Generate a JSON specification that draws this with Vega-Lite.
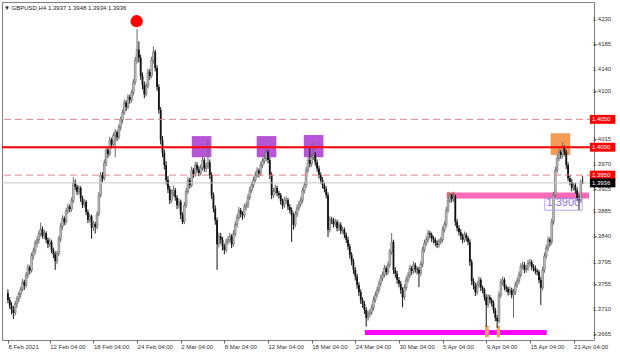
{
  "$schema": "https://vega.github.io/schema/vega-lite/v6.json",
  "width": 592,
  "height": 338,
  "autosize": "none",
  "padding": {"left": 2, "top": 2, "right": 26, "bottom": 12},
  "background": "white",
  "config": {"view": {"stroke": "#808080", "strokeWidth": 1}, "font": "Liberation Sans", "axis": {"labelOverlap": false, "labelBound": false, "labelFlush": false}},
  "title": {"text": "▼ GBPUSD,H4  1.3937 1.3948 1.3934 1.3936", "anchor": "start", "frame": "group", "offset": -9, "fontSize": 6, "fontWeight": "normal", "color": "#222222", "dx": 2, "font": "Liberation Sans"},
  "datasets": {
    "bars": [
      {"i":2,"o":1.3738,"h":1.3745,"l":1.3720,"c":1.3726},
      {"i":3,"o":1.3726,"h":1.3731,"l":1.3710,"c":1.3716},
      {"i":4,"o":1.3716,"h":1.3722,"l":1.3700,"c":1.3708},
      {"i":5,"o":1.3708,"h":1.3715,"l":1.3692,"c":1.3703},
      {"i":6,"o":1.3703,"h":1.3724,"l":1.3698,"c":1.3719},
      {"i":7,"o":1.3719,"h":1.3733,"l":1.3712,"c":1.3728},
      {"i":8,"o":1.3728,"h":1.3741,"l":1.3722,"c":1.3737},
      {"i":9,"o":1.3737,"h":1.3750,"l":1.3730,"c":1.3745},
      {"i":10,"o":1.3745,"h":1.3764,"l":1.3741,"c":1.3758},
      {"i":11,"o":1.3758,"h":1.3762,"l":1.3744,"c":1.3752},
      {"i":12,"o":1.3752,"h":1.3776,"l":1.3748,"c":1.3771},
      {"i":13,"o":1.3771,"h":1.3790,"l":1.3765,"c":1.3784},
      {"i":14,"o":1.3784,"h":1.3788,"l":1.3772,"c":1.3779},
      {"i":15,"o":1.3779,"h":1.3811,"l":1.3775,"c":1.3806},
      {"i":16,"o":1.3806,"h":1.3820,"l":1.3799,"c":1.3814},
      {"i":17,"o":1.3814,"h":1.3833,"l":1.3808,"c":1.3828},
      {"i":18,"o":1.3828,"h":1.3840,"l":1.3821,"c":1.3834},
      {"i":19,"o":1.3834,"h":1.3850,"l":1.3827,"c":1.3845},
      {"i":20,"o":1.3845,"h":1.3865,"l":1.3840,"c":1.3853},
      {"i":21,"o":1.3853,"h":1.3858,"l":1.3836,"c":1.3841},
      {"i":22,"o":1.3841,"h":1.3852,"l":1.3835,"c":1.3846},
      {"i":23,"o":1.3846,"h":1.3849,"l":1.3828,"c":1.3834},
      {"i":24,"o":1.3834,"h":1.3838,"l":1.3819,"c":1.3826},
      {"i":25,"o":1.3826,"h":1.3837,"l":1.3821,"c":1.3830},
      {"i":26,"o":1.3830,"h":1.3834,"l":1.3810,"c":1.3815},
      {"i":27,"o":1.3815,"h":1.3820,"l":1.3801,"c":1.3808},
      {"i":28,"o":1.3808,"h":1.3813,"l":1.3780,"c":1.3796},
      {"i":29,"o":1.3796,"h":1.3814,"l":1.3790,"c":1.3809},
      {"i":30,"o":1.3809,"h":1.3841,"l":1.3805,"c":1.3836},
      {"i":31,"o":1.3836,"h":1.3864,"l":1.3830,"c":1.3858},
      {"i":32,"o":1.3858,"h":1.3878,"l":1.3852,"c":1.3872},
      {"i":33,"o":1.3872,"h":1.3876,"l":1.3860,"c":1.3866},
      {"i":34,"o":1.3866,"h":1.3891,"l":1.3861,"c":1.3886},
      {"i":35,"o":1.3886,"h":1.3899,"l":1.3880,"c":1.3893},
      {"i":36,"o":1.3893,"h":1.3897,"l":1.3883,"c":1.3889},
      {"i":37,"o":1.3889,"h":1.3910,"l":1.3884,"c":1.3904},
      {"i":38,"o":1.3904,"h":1.3946,"l":1.3900,"c":1.3937},
      {"i":39,"o":1.3937,"h":1.3942,"l":1.3923,"c":1.3929},
      {"i":40,"o":1.3929,"h":1.3933,"l":1.3914,"c":1.3920},
      {"i":41,"o":1.3920,"h":1.3932,"l":1.3915,"c":1.3927},
      {"i":42,"o":1.3927,"h":1.3930,"l":1.3902,"c":1.3908},
      {"i":43,"o":1.3908,"h":1.3913,"l":1.3891,"c":1.3897},
      {"i":44,"o":1.3897,"h":1.3907,"l":1.3892,"c":1.3902},
      {"i":45,"o":1.3902,"h":1.3905,"l":1.3878,"c":1.3884},
      {"i":46,"o":1.3884,"h":1.3888,"l":1.3864,"c":1.3870},
      {"i":47,"o":1.3870,"h":1.3881,"l":1.3865,"c":1.3876},
      {"i":48,"o":1.3876,"h":1.3879,"l":1.3836,"c":1.3856},
      {"i":49,"o":1.3856,"h":1.3868,"l":1.3850,"c":1.3862},
      {"i":50,"o":1.3862,"h":1.3866,"l":1.3845,"c":1.3857},
      {"i":51,"o":1.3857,"h":1.3885,"l":1.3853,"c":1.3880},
      {"i":52,"o":1.3880,"h":1.3920,"l":1.3876,"c":1.3914},
      {"i":53,"o":1.3914,"h":1.3956,"l":1.3910,"c":1.3950},
      {"i":54,"o":1.3950,"h":1.3955,"l":1.3938,"c":1.3944},
      {"i":55,"o":1.3944,"h":1.3978,"l":1.3940,"c":1.3972},
      {"i":56,"o":1.3972,"h":1.4001,"l":1.3966,"c":1.3995},
      {"i":57,"o":1.3995,"h":1.4000,"l":1.3981,"c":1.3988},
      {"i":58,"o":1.3988,"h":1.4019,"l":1.3984,"c":1.4013},
      {"i":59,"o":1.4013,"h":1.4017,"l":1.3998,"c":1.4005},
      {"i":60,"o":1.4005,"h":1.4026,"l":1.4000,"c":1.4021},
      {"i":61,"o":1.4021,"h":1.4033,"l":1.3982,"c":1.4027},
      {"i":62,"o":1.4027,"h":1.4030,"l":1.4011,"c":1.4018},
      {"i":63,"o":1.4018,"h":1.4041,"l":1.4014,"c":1.4036},
      {"i":64,"o":1.4036,"h":1.4055,"l":1.4030,"c":1.4049},
      {"i":65,"o":1.4049,"h":1.4068,"l":1.4043,"c":1.4062},
      {"i":66,"o":1.4062,"h":1.4086,"l":1.4058,"c":1.4080},
      {"i":67,"o":1.4080,"h":1.4084,"l":1.4065,"c":1.4072},
      {"i":68,"o":1.4072,"h":1.4095,"l":1.4068,"c":1.4090},
      {"i":69,"o":1.4090,"h":1.4094,"l":1.4078,"c":1.4085},
      {"i":70,"o":1.4085,"h":1.4103,"l":1.4080,"c":1.4098},
      {"i":71,"o":1.4098,"h":1.4122,"l":1.4093,"c":1.4117},
      {"i":72,"o":1.4117,"h":1.4162,"l":1.4112,"c":1.4156},
      {"i":73,"o":1.4156,"h":1.4212,"l":1.4150,"c":1.4175},
      {"i":74,"o":1.4175,"h":1.4190,"l":1.4152,"c":1.4160},
      {"i":75,"o":1.4160,"h":1.4166,"l":1.4121,"c":1.4128},
      {"i":76,"o":1.4128,"h":1.4134,"l":1.4104,"c":1.4112},
      {"i":77,"o":1.4112,"h":1.4118,"l":1.4088,"c":1.4095},
      {"i":78,"o":1.4095,"h":1.4116,"l":1.4091,"c":1.4110},
      {"i":79,"o":1.4110,"h":1.4141,"l":1.4106,"c":1.4135},
      {"i":80,"o":1.4135,"h":1.4140,"l":1.4121,"c":1.4128},
      {"i":81,"o":1.4128,"h":1.4162,"l":1.4124,"c":1.4156},
      {"i":82,"o":1.4156,"h":1.4181,"l":1.4150,"c":1.4171},
      {"i":83,"o":1.4171,"h":1.4175,"l":1.4136,"c":1.4142},
      {"i":84,"o":1.4142,"h":1.4147,"l":1.4101,"c":1.4108},
      {"i":85,"o":1.4108,"h":1.4113,"l":1.4060,"c":1.4067},
      {"i":86,"o":1.4067,"h":1.4072,"l":1.4005,"c":1.4013},
      {"i":87,"o":1.4013,"h":1.4020,"l":1.3982,"c":1.3990},
      {"i":88,"o":1.3990,"h":1.3996,"l":1.3960,"c":1.3968},
      {"i":89,"o":1.3968,"h":1.3975,"l":1.3933,"c":1.3941},
      {"i":90,"o":1.3941,"h":1.3948,"l":1.3918,"c":1.3925},
      {"i":91,"o":1.3925,"h":1.3931,"l":1.3898,"c":1.3905},
      {"i":92,"o":1.3905,"h":1.3924,"l":1.3900,"c":1.3918},
      {"i":93,"o":1.3918,"h":1.3931,"l":1.3912,"c":1.3923},
      {"i":94,"o":1.3923,"h":1.3927,"l":1.3904,"c":1.3910},
      {"i":95,"o":1.3910,"h":1.3914,"l":1.3889,"c":1.3896},
      {"i":96,"o":1.3896,"h":1.3908,"l":1.3890,"c":1.3902},
      {"i":97,"o":1.3902,"h":1.3906,"l":1.3871,"c":1.3878},
      {"i":98,"o":1.3878,"h":1.3883,"l":1.3862,"c":1.3866},
      {"i":99,"o":1.3866,"h":1.3902,"l":1.3862,"c":1.3896},
      {"i":100,"o":1.3896,"h":1.3927,"l":1.3891,"c":1.3921},
      {"i":101,"o":1.3921,"h":1.3947,"l":1.3916,"c":1.3941},
      {"i":102,"o":1.3941,"h":1.3945,"l":1.3926,"c":1.3932},
      {"i":103,"o":1.3932,"h":1.3965,"l":1.3928,"c":1.3959},
      {"i":104,"o":1.3959,"h":1.3963,"l":1.3945,"c":1.3952},
      {"i":105,"o":1.3952,"h":1.3974,"l":1.3947,"c":1.3968},
      {"i":106,"o":1.3968,"h":1.3973,"l":1.3954,"c":1.3960},
      {"i":107,"o":1.3960,"h":1.3966,"l":1.3948,"c":1.3954},
      {"i":108,"o":1.3954,"h":1.3969,"l":1.3949,"c":1.3963},
      {"i":109,"o":1.3963,"h":1.3984,"l":1.3958,"c":1.3977},
      {"i":110,"o":1.3977,"h":1.3981,"l":1.3956,"c":1.3962},
      {"i":111,"o":1.3962,"h":1.3972,"l":1.3955,"c":1.3966},
      {"i":112,"o":1.3966,"h":1.4013,"l":1.3961,"c":1.3973},
      {"i":113,"o":1.3973,"h":1.3978,"l":1.3943,"c":1.3950},
      {"i":114,"o":1.3950,"h":1.3955,"l":1.3907,"c":1.3914},
      {"i":115,"o":1.3914,"h":1.3919,"l":1.3883,"c":1.3890},
      {"i":116,"o":1.3890,"h":1.3896,"l":1.3861,"c":1.3869},
      {"i":117,"o":1.3869,"h":1.3874,"l":1.3780,"c":1.3826},
      {"i":118,"o":1.3826,"h":1.3847,"l":1.3820,"c":1.3840},
      {"i":119,"o":1.3840,"h":1.3846,"l":1.3827,"c":1.3834},
      {"i":120,"o":1.3834,"h":1.3839,"l":1.3815,"c":1.3822},
      {"i":121,"o":1.3822,"h":1.3827,"l":1.3808,"c":1.3816},
      {"i":122,"o":1.3816,"h":1.3836,"l":1.3811,"c":1.3830},
      {"i":123,"o":1.3830,"h":1.3840,"l":1.3825,"c":1.3834},
      {"i":124,"o":1.3834,"h":1.3846,"l":1.3829,"c":1.3840},
      {"i":125,"o":1.3840,"h":1.3844,"l":1.3819,"c":1.3826},
      {"i":126,"o":1.3826,"h":1.3851,"l":1.3821,"c":1.3845},
      {"i":127,"o":1.3845,"h":1.3867,"l":1.3840,"c":1.3861},
      {"i":128,"o":1.3861,"h":1.3880,"l":1.3856,"c":1.3874},
      {"i":129,"o":1.3874,"h":1.3893,"l":1.3869,"c":1.3887},
      {"i":130,"o":1.3887,"h":1.3891,"l":1.3874,"c":1.3880},
      {"i":131,"o":1.3880,"h":1.3885,"l":1.3870,"c":1.3878},
      {"i":132,"o":1.3878,"h":1.3899,"l":1.3873,"c":1.3893},
      {"i":133,"o":1.3893,"h":1.3902,"l":1.3887,"c":1.3896},
      {"i":134,"o":1.3896,"h":1.3916,"l":1.3891,"c":1.3910},
      {"i":135,"o":1.3910,"h":1.3929,"l":1.3905,"c":1.3923},
      {"i":136,"o":1.3923,"h":1.3938,"l":1.3918,"c":1.3932},
      {"i":137,"o":1.3932,"h":1.3947,"l":1.3927,"c":1.3941},
      {"i":138,"o":1.3941,"h":1.3956,"l":1.3936,"c":1.3950},
      {"i":139,"o":1.3950,"h":1.3964,"l":1.3945,"c":1.3958},
      {"i":140,"o":1.3958,"h":1.3962,"l":1.3946,"c":1.3953},
      {"i":141,"o":1.3953,"h":1.3974,"l":1.3948,"c":1.3968},
      {"i":142,"o":1.3968,"h":1.3981,"l":1.3963,"c":1.3975},
      {"i":143,"o":1.3975,"h":1.3986,"l":1.3970,"c":1.3980},
      {"i":144,"o":1.3980,"h":1.3997,"l":1.3975,"c":1.3991},
      {"i":145,"o":1.3991,"h":1.3995,"l":1.3971,"c":1.3977},
      {"i":146,"o":1.3977,"h":1.3982,"l":1.3943,"c":1.3950},
      {"i":147,"o":1.3950,"h":1.3955,"l":1.3907,"c":1.3914},
      {"i":148,"o":1.3914,"h":1.3927,"l":1.3909,"c":1.3921},
      {"i":149,"o":1.3921,"h":1.3933,"l":1.3915,"c":1.3927},
      {"i":150,"o":1.3927,"h":1.3931,"l":1.3912,"c":1.3918},
      {"i":151,"o":1.3918,"h":1.3922,"l":1.3908,"c":1.3914},
      {"i":152,"o":1.3914,"h":1.3918,"l":1.3897,"c":1.3903},
      {"i":153,"o":1.3903,"h":1.3908,"l":1.3889,"c":1.3896},
      {"i":154,"o":1.3896,"h":1.3911,"l":1.3891,"c":1.3905},
      {"i":155,"o":1.3905,"h":1.3912,"l":1.3898,"c":1.3905},
      {"i":156,"o":1.3905,"h":1.3909,"l":1.3887,"c":1.3893},
      {"i":157,"o":1.3893,"h":1.3898,"l":1.3881,"c":1.3887},
      {"i":158,"o":1.3887,"h":1.3892,"l":1.3830,"c":1.3878},
      {"i":159,"o":1.3878,"h":1.3883,"l":1.3852,"c":1.3861},
      {"i":160,"o":1.3861,"h":1.3886,"l":1.3856,"c":1.3880},
      {"i":161,"o":1.3880,"h":1.3897,"l":1.3875,"c":1.3891},
      {"i":162,"o":1.3891,"h":1.3904,"l":1.3886,"c":1.3898},
      {"i":163,"o":1.3898,"h":1.3911,"l":1.3893,"c":1.3905},
      {"i":164,"o":1.3905,"h":1.3928,"l":1.3900,"c":1.3922},
      {"i":165,"o":1.3922,"h":1.3938,"l":1.3917,"c":1.3932},
      {"i":166,"o":1.3932,"h":1.3965,"l":1.3927,"c":1.3959},
      {"i":167,"o":1.3959,"h":1.3983,"l":1.3954,"c":1.3977},
      {"i":168,"o":1.3977,"h":1.4000,"l":1.3964,"c":1.3970},
      {"i":169,"o":1.3970,"h":1.3988,"l":1.3965,"c":1.3982},
      {"i":170,"o":1.3982,"h":1.4008,"l":1.3977,"c":1.3986},
      {"i":171,"o":1.3986,"h":1.3991,"l":1.3967,"c":1.3973},
      {"i":172,"o":1.3973,"h":1.3978,"l":1.3956,"c":1.3962},
      {"i":173,"o":1.3962,"h":1.3967,"l":1.3944,"c":1.3950},
      {"i":174,"o":1.3950,"h":1.3955,"l":1.3935,"c":1.3941},
      {"i":175,"o":1.3941,"h":1.3946,"l":1.3926,"c":1.3932},
      {"i":176,"o":1.3932,"h":1.3937,"l":1.3919,"c":1.3925},
      {"i":177,"o":1.3925,"h":1.3930,"l":1.3908,"c":1.3914},
      {"i":178,"o":1.3914,"h":1.3919,"l":1.3839,"c":1.3852},
      {"i":179,"o":1.3852,"h":1.3876,"l":1.3847,"c":1.3870},
      {"i":180,"o":1.3870,"h":1.3875,"l":1.3862,"c":1.3869},
      {"i":181,"o":1.3869,"h":1.3873,"l":1.3856,"c":1.3862},
      {"i":182,"o":1.3862,"h":1.3872,"l":1.3857,"c":1.3866},
      {"i":183,"o":1.3866,"h":1.3870,"l":1.3849,"c":1.3855},
      {"i":184,"o":1.3855,"h":1.3867,"l":1.3850,"c":1.3861},
      {"i":185,"o":1.3861,"h":1.3865,"l":1.3844,"c":1.3850},
      {"i":186,"o":1.3850,"h":1.3858,"l":1.3845,"c":1.3852},
      {"i":187,"o":1.3852,"h":1.3856,"l":1.3837,"c":1.3843},
      {"i":188,"o":1.3843,"h":1.3847,"l":1.3828,"c":1.3834},
      {"i":189,"o":1.3834,"h":1.3839,"l":1.3816,"c":1.3822},
      {"i":190,"o":1.3822,"h":1.3827,"l":1.3800,"c":1.3807},
      {"i":191,"o":1.3807,"h":1.3812,"l":1.3788,"c":1.3795},
      {"i":192,"o":1.3795,"h":1.3800,"l":1.3773,"c":1.3780},
      {"i":193,"o":1.3780,"h":1.3785,"l":1.3761,"c":1.3768},
      {"i":194,"o":1.3768,"h":1.3773,"l":1.3746,"c":1.3753},
      {"i":195,"o":1.3753,"h":1.3758,"l":1.3733,"c":1.3740},
      {"i":196,"o":1.3740,"h":1.3745,"l":1.3719,"c":1.3726},
      {"i":197,"o":1.3726,"h":1.3731,"l":1.3712,"c":1.3719},
      {"i":198,"o":1.3719,"h":1.3724,"l":1.3701,"c":1.3708},
      {"i":199,"o":1.3708,"h":1.3713,"l":1.3678,"c":1.3694},
      {"i":200,"o":1.3694,"h":1.3707,"l":1.3689,"c":1.3701},
      {"i":201,"o":1.3701,"h":1.3710,"l":1.3695,"c":1.3704},
      {"i":202,"o":1.3704,"h":1.3718,"l":1.3699,"c":1.3712},
      {"i":203,"o":1.3712,"h":1.3732,"l":1.3707,"c":1.3726},
      {"i":204,"o":1.3726,"h":1.3741,"l":1.3721,"c":1.3735},
      {"i":205,"o":1.3735,"h":1.3750,"l":1.3730,"c":1.3744},
      {"i":206,"o":1.3744,"h":1.3761,"l":1.3739,"c":1.3755},
      {"i":207,"o":1.3755,"h":1.3771,"l":1.3750,"c":1.3765},
      {"i":208,"o":1.3765,"h":1.3777,"l":1.3760,"c":1.3771},
      {"i":209,"o":1.3771,"h":1.3789,"l":1.3766,"c":1.3783},
      {"i":210,"o":1.3783,"h":1.3787,"l":1.3770,"c":1.3776},
      {"i":211,"o":1.3776,"h":1.3795,"l":1.3771,"c":1.3789},
      {"i":212,"o":1.3789,"h":1.3818,"l":1.3784,"c":1.3812},
      {"i":213,"o":1.3812,"h":1.3846,"l":1.3807,"c":1.3830},
      {"i":214,"o":1.3830,"h":1.3834,"l":1.3773,"c":1.3780},
      {"i":215,"o":1.3780,"h":1.3785,"l":1.3766,"c":1.3773},
      {"i":216,"o":1.3773,"h":1.3778,"l":1.3755,"c":1.3762},
      {"i":217,"o":1.3762,"h":1.3767,"l":1.3749,"c":1.3755},
      {"i":218,"o":1.3755,"h":1.3760,"l":1.3737,"c":1.3744},
      {"i":219,"o":1.3744,"h":1.3749,"l":1.3713,"c":1.3731},
      {"i":220,"o":1.3731,"h":1.3754,"l":1.3726,"c":1.3748},
      {"i":221,"o":1.3748,"h":1.3768,"l":1.3743,"c":1.3762},
      {"i":222,"o":1.3762,"h":1.3776,"l":1.3757,"c":1.3770},
      {"i":223,"o":1.3770,"h":1.3789,"l":1.3765,"c":1.3783},
      {"i":224,"o":1.3783,"h":1.3787,"l":1.3771,"c":1.3778},
      {"i":225,"o":1.3778,"h":1.3795,"l":1.3773,"c":1.3789},
      {"i":226,"o":1.3789,"h":1.3793,"l":1.3775,"c":1.3781},
      {"i":227,"o":1.3781,"h":1.3786,"l":1.3772,"c":1.3780},
      {"i":228,"o":1.3780,"h":1.3785,"l":1.3749,"c":1.3774},
      {"i":229,"o":1.3774,"h":1.3796,"l":1.3769,"c":1.3790},
      {"i":230,"o":1.3790,"h":1.3822,"l":1.3785,"c":1.3816},
      {"i":231,"o":1.3816,"h":1.3834,"l":1.3811,"c":1.3828},
      {"i":232,"o":1.3828,"h":1.3840,"l":1.3823,"c":1.3834},
      {"i":233,"o":1.3834,"h":1.3852,"l":1.3829,"c":1.3846},
      {"i":234,"o":1.3846,"h":1.3850,"l":1.3837,"c":1.3843},
      {"i":235,"o":1.3843,"h":1.3847,"l":1.3830,"c":1.3836},
      {"i":236,"o":1.3836,"h":1.3841,"l":1.3828,"c":1.3834},
      {"i":237,"o":1.3834,"h":1.3838,"l":1.3822,"c":1.3828},
      {"i":238,"o":1.3828,"h":1.3833,"l":1.3819,"c":1.3825},
      {"i":239,"o":1.3825,"h":1.3836,"l":1.3820,"c":1.3831},
      {"i":240,"o":1.3831,"h":1.3839,"l":1.3826,"c":1.3834},
      {"i":241,"o":1.3834,"h":1.3858,"l":1.3829,"c":1.3852},
      {"i":242,"o":1.3852,"h":1.3867,"l":1.3847,"c":1.3861},
      {"i":243,"o":1.3861,"h":1.3893,"l":1.3856,"c":1.3887},
      {"i":244,"o":1.3887,"h":1.3911,"l":1.3882,"c":1.3905},
      {"i":245,"o":1.3905,"h":1.3918,"l":1.3900,"c":1.3914},
      {"i":246,"o":1.3914,"h":1.3917,"l":1.3901,"c":1.3907},
      {"i":247,"o":1.3907,"h":1.3918,"l":1.3902,"c":1.3911},
      {"i":248,"o":1.3911,"h":1.3915,"l":1.3859,"c":1.3866},
      {"i":249,"o":1.3866,"h":1.3871,"l":1.3849,"c":1.3855},
      {"i":250,"o":1.3855,"h":1.3860,"l":1.3842,"c":1.3848},
      {"i":251,"o":1.3848,"h":1.3853,"l":1.3834,"c":1.3840},
      {"i":252,"o":1.3840,"h":1.3845,"l":1.3828,"c":1.3834},
      {"i":253,"o":1.3834,"h":1.3849,"l":1.3829,"c":1.3843},
      {"i":254,"o":1.3843,"h":1.3847,"l":1.3831,"c":1.3837},
      {"i":255,"o":1.3837,"h":1.3841,"l":1.3824,"c":1.3830},
      {"i":256,"o":1.3830,"h":1.3835,"l":1.3787,"c":1.3794},
      {"i":257,"o":1.3794,"h":1.3799,"l":1.3753,"c":1.3760},
      {"i":258,"o":1.3760,"h":1.3765,"l":1.3745,"c":1.3752},
      {"i":259,"o":1.3752,"h":1.3757,"l":1.3733,"c":1.3740},
      {"i":260,"o":1.3740,"h":1.3759,"l":1.3735,"c":1.3753},
      {"i":261,"o":1.3753,"h":1.3768,"l":1.3748,"c":1.3762},
      {"i":262,"o":1.3762,"h":1.3766,"l":1.3742,"c":1.3748},
      {"i":263,"o":1.3748,"h":1.3752,"l":1.3738,"c":1.3744},
      {"i":264,"o":1.3744,"h":1.3748,"l":1.3725,"c":1.3731},
      {"i":265,"o":1.3731,"h":1.3736,"l":1.3678,"c":1.3717},
      {"i":266,"o":1.3717,"h":1.3737,"l":1.3712,"c":1.3731},
      {"i":267,"o":1.3731,"h":1.3735,"l":1.3720,"c":1.3726},
      {"i":268,"o":1.3726,"h":1.3730,"l":1.3714,"c":1.3720},
      {"i":269,"o":1.3720,"h":1.3725,"l":1.3702,"c":1.3708},
      {"i":270,"o":1.3708,"h":1.3712,"l":1.3688,"c":1.3694},
      {"i":271,"o":1.3694,"h":1.3699,"l":1.3676,"c":1.3688},
      {"i":272,"o":1.3688,"h":1.3741,"l":1.3684,"c":1.3735},
      {"i":273,"o":1.3735,"h":1.3764,"l":1.3730,"c":1.3758},
      {"i":274,"o":1.3758,"h":1.3768,"l":1.3752,"c":1.3762},
      {"i":275,"o":1.3762,"h":1.3766,"l":1.3743,"c":1.3749},
      {"i":276,"o":1.3749,"h":1.3753,"l":1.3740,"c":1.3746},
      {"i":277,"o":1.3746,"h":1.3750,"l":1.3734,"c":1.3740},
      {"i":278,"o":1.3740,"h":1.3750,"l":1.3735,"c":1.3744},
      {"i":279,"o":1.3744,"h":1.3748,"l":1.3729,"c":1.3735},
      {"i":280,"o":1.3735,"h":1.3746,"l":1.3694,"c":1.3740},
      {"i":281,"o":1.3740,"h":1.3759,"l":1.3735,"c":1.3753},
      {"i":282,"o":1.3753,"h":1.3766,"l":1.3748,"c":1.3760},
      {"i":283,"o":1.3760,"h":1.3777,"l":1.3755,"c":1.3771},
      {"i":284,"o":1.3771,"h":1.3792,"l":1.3766,"c":1.3786},
      {"i":285,"o":1.3786,"h":1.3795,"l":1.3781,"c":1.3789},
      {"i":286,"o":1.3789,"h":1.3794,"l":1.3774,"c":1.3780},
      {"i":287,"o":1.3780,"h":1.3789,"l":1.3775,"c":1.3783},
      {"i":288,"o":1.3783,"h":1.3798,"l":1.3778,"c":1.3792},
      {"i":289,"o":1.3792,"h":1.3800,"l":1.3787,"c":1.3794},
      {"i":290,"o":1.3794,"h":1.3798,"l":1.3779,"c":1.3785},
      {"i":291,"o":1.3785,"h":1.3790,"l":1.3777,"c":1.3783},
      {"i":292,"o":1.3783,"h":1.3788,"l":1.3772,"c":1.3778},
      {"i":293,"o":1.3778,"h":1.3782,"l":1.3770,"c":1.3776},
      {"i":294,"o":1.3776,"h":1.3780,"l":1.3756,"c":1.3762},
      {"i":295,"o":1.3762,"h":1.3767,"l":1.3717,"c":1.3748},
      {"i":296,"o":1.3748,"h":1.3786,"l":1.3743,"c":1.3780},
      {"i":297,"o":1.3780,"h":1.3811,"l":1.3775,"c":1.3805},
      {"i":298,"o":1.3805,"h":1.3825,"l":1.3800,"c":1.3819},
      {"i":299,"o":1.3819,"h":1.3840,"l":1.3814,"c":1.3834},
      {"i":300,"o":1.3834,"h":1.3838,"l":1.3822,"c":1.3830},
      {"i":301,"o":1.3830,"h":1.3872,"l":1.3825,"c":1.3866},
      {"i":302,"o":1.3866,"h":1.3920,"l":1.3861,"c":1.3914},
      {"i":303,"o":1.3914,"h":1.3965,"l":1.3909,"c":1.3959},
      {"i":304,"o":1.3959,"h":1.3986,"l":1.3954,"c":1.3980},
      {"i":305,"o":1.3980,"h":1.3997,"l":1.3975,"c":1.3991},
      {"i":306,"o":1.3991,"h":1.3995,"l":1.3979,"c":1.3986},
      {"i":307,"o":1.3986,"h":1.4009,"l":1.3981,"c":1.3999},
      {"i":308,"o":1.3999,"h":1.4003,"l":1.3985,"c":1.3991},
      {"i":309,"o":1.3991,"h":1.3995,"l":1.3961,"c":1.3968},
      {"i":310,"o":1.3968,"h":1.3973,"l":1.3939,"c":1.3945},
      {"i":311,"o":1.3945,"h":1.3950,"l":1.3932,"c":1.3938},
      {"i":312,"o":1.3938,"h":1.3943,"l":1.3921,"c":1.3927},
      {"i":313,"o":1.3927,"h":1.3937,"l":1.3922,"c":1.3932},
      {"i":314,"o":1.3932,"h":1.3936,"l":1.3917,"c":1.3923},
      {"i":315,"o":1.3923,"h":1.3928,"l":1.3903,"c":1.3909},
      {"i":316,"o":1.3909,"h":1.3914,"l":1.3887,"c":1.3905},
      {"i":317,"o":1.3905,"h":1.3942,"l":1.3900,"c":1.3937},
      {"i":318,"o":1.3937,"h":1.3948,"l":1.3934,"c":1.3936}
    ],
    "zones": [
      {"i":103.1,"i2":113.9,"p":1.4020,"p2":1.3982,"col":"#b655d5"},
      {"i":138.8,"i2":149.6,"p":1.4020,"p2":1.3982,"col":"#b655d5"},
      {"i":164.7,"i2":175.5,"p":1.4022,"p2":1.3982,"col":"#b655d5"},
      {"i":300.4,"i2":311.2,"p":1.4025,"p2":1.3986,"col":"#f39c58"},
      {"i":243.2,"i2":321.5,"p":1.3919,"p2":1.3908,"col":"#f96bb6"},
      {"i":198.3,"i2":298.3,"p":1.3672,"p2":1.3663,"col":"#ff00ff"},
      {"i":264.4,"i2":266.4,"p":1.3680,"p2":1.3659,"col":"#f0a060"},
      {"i":270.8,"i2":272.6,"p":1.3680,"p2":1.3659,"col":"#f0a060"},
      {"i":243.6,"i2":245.0,"p":1.3920,"p2":1.3909,"col":"#d9805a"},
      {"i":246.4,"i2":247.8,"p":1.3920,"p2":1.3909,"col":"#d9805a"}
    ],
    "levels": [
      {"p":1.4050,"kind":"dash"},
      {"p":1.3950,"kind":"dash"},
      {"p":1.3936,"kind":"bid"},
      {"p":1.4000,"kind":"key"}
    ],
    "scale_labels": [
      {"i":323.6,"p":1.4230},{"i":323.6,"p":1.4185},{"i":323.6,"p":1.4140},{"i":323.6,"p":1.4100},
      {"i":323.6,"p":1.4015},{"i":323.6,"p":1.3970},{"i":323.6,"p":1.3925},
      {"i":323.6,"p":1.3885},{"i":323.6,"p":1.3840},{"i":323.6,"p":1.3795},{"i":323.6,"p":1.3755},
      {"i":323.6,"p":1.3710},{"i":323.6,"p":1.3665}
    ],
    "tags": [
      {"i":322.0,"i2":336.0,"p":1.4058,"p2":1.4042,"v":1.4050,"t":"1.4050","col":"#ff0000"},
      {"i":322.0,"i2":336.0,"p":1.4008,"p2":1.3992,"v":1.4000,"t":"1.4000","col":"#ff0000"},
      {"i":322.0,"i2":336.0,"p":1.3958,"p2":1.3942,"v":1.3950,"t":"1.3950","col":"#ff0000"},
      {"i":322.0,"i2":336.0,"p":1.3944,"p2":1.3928,"v":1.3936,"t":"1.3936","col":"#000000"}
    ]
  },
  "layer": [
    {
      "data": {"name": "zones"},
      "mark": {"type": "rect"},
      "encoding": {
        "x": {"field": "i", "type": "quantitative", "scale": {"domain": [1.5, 321.5], "nice": false, "zero": false},
          "axis": {"values": [2, 25, 49, 73, 97, 121, 145, 169, 193, 217, 241, 265, 289, 313],
            "labelExpr": "['8 Feb 2021','12 Feb 04:00','18 Feb 04:00','24 Feb 04:00','2 Mar 04:00','8 Mar 04:00','12 Mar 04:00','18 Mar 04:00','24 Mar 04:00','30 Mar 04:00','5 Apr 04:00','9 Apr 04:00','15 Apr 04:00','21 Apr 04:00'][indexof([2,25,49,73,97,121,145,169,193,217,241,265,289,313], datum.value)]",
            "title": null, "grid": false, "domain": false, "tickSize": 3, "tickColor": "#666666",
            "labelAlign": "left", "labelBaseline": "top", "labelPadding": 0, "labelFontSize": 6,
            "labelColor": "#333333", "labelFlush": false, "labelOverlap": false, "labelFont": "Liberation Sans"}},
        "x2": {"field": "i2"},
        "y": {"field": "p", "type": "quantitative", "scale": {"domain": [1.36542, 1.42605], "nice": false, "zero": false},
          "axis": {"orient": "right", "values": [1.4230, 1.4185, 1.4140, 1.4100, 1.4055, 1.4015, 1.3970, 1.3925, 1.3885, 1.3840, 1.3795, 1.3755, 1.3710, 1.3665],
            "labels": false, "title": null, "grid": false, "domain": false, "tickSize": 2, "tickColor": "#666666"}},
        "y2": {"field": "p2"},
        "color": {"field": "col", "type": "nominal", "scale": null}
      }
    },
    {
      "data": {"name": "bars"},
      "mark": {"type": "rule", "strokeWidth": 1},
      "encoding": {
        "x": {"field": "i", "type": "quantitative", "scale": {"domain": [1.5, 321.5], "nice": false, "zero": false}},
        "y": {"field": "l", "type": "quantitative", "scale": {"domain": [1.36542, 1.42605], "nice": false, "zero": false}},
        "y2": {"field": "h"},
        "color": {"condition": {"test": "datum.c >= datum.o", "value": "#6a6a6a"}, "value": "#141414"}
      }
    },
    {
      "data": {"name": "bars"},
      "transform": [{"filter": "datum.c >= datum.o"}],
      "mark": {"type": "bar", "width": 1.8, "fill": "#c4c4c4", "stroke": "#555555", "strokeWidth": 0.5},
      "encoding": {
        "x": {"field": "i", "type": "quantitative", "scale": {"domain": [1.5, 321.5], "nice": false, "zero": false}},
        "y": {"field": "o", "type": "quantitative", "scale": {"domain": [1.36542, 1.42605], "nice": false, "zero": false}},
        "y2": {"field": "c"}
      }
    },
    {
      "data": {"name": "bars"},
      "transform": [{"filter": "datum.c < datum.o"}],
      "mark": {"type": "bar", "width": 1.8, "fill": "#111111"},
      "encoding": {
        "x": {"field": "i", "type": "quantitative", "scale": {"domain": [1.5, 321.5], "nice": false, "zero": false}},
        "y": {"field": "o", "type": "quantitative", "scale": {"domain": [1.36542, 1.42605], "nice": false, "zero": false}},
        "y2": {"field": "c"}
      }
    },
    {
      "data": {"name": "levels"},
      "transform": [{"filter": "datum.kind == 'dash'"}],
      "mark": {"type": "rule", "stroke": "#dd8888", "strokeWidth": 1, "strokeDash": [7, 4]},
      "encoding": {"y": {"field": "p", "type": "quantitative", "scale": {"domain": [1.36542, 1.42605], "nice": false, "zero": false}}}
    },
    {
      "data": {"name": "levels"},
      "transform": [{"filter": "datum.kind == 'bid'"}],
      "mark": {"type": "rule", "stroke": "#c4c4c4", "strokeWidth": 1},
      "encoding": {"y": {"field": "p", "type": "quantitative", "scale": {"domain": [1.36542, 1.42605], "nice": false, "zero": false}}}
    },
    {
      "data": {"name": "levels"},
      "transform": [{"filter": "datum.kind == 'key'"}],
      "mark": {"type": "rule", "stroke": "#ff0000", "strokeWidth": 2},
      "encoding": {"y": {"field": "p", "type": "quantitative", "scale": {"domain": [1.36542, 1.42605], "nice": false, "zero": false}}}
    },
    {
      "data": {"values": [{"i": 297.2, "i2": 317.7, "p": 1.3908, "p2": 1.3887}]},
      "mark": {"type": "rect", "fillOpacity": 0, "stroke": "#b9a2e8", "strokeWidth": 1},
      "encoding": {
        "x": {"field": "i", "type": "quantitative", "scale": {"domain": [1.5, 321.5], "nice": false, "zero": false}},
        "x2": {"field": "i2"},
        "y": {"field": "p", "type": "quantitative", "scale": {"domain": [1.36542, 1.42605], "nice": false, "zero": false}},
        "y2": {"field": "p2"}
      }
    },
    {
      "data": {"values": [{"i": 307.4, "p": 1.3900, "t": "1.3900"}]},
      "mark": {"type": "text", "fontSize": 11, "font": "Liberation Sans", "color": "#9370db", "align": "center", "baseline": "middle"},
      "encoding": {
        "x": {"field": "i", "type": "quantitative", "scale": {"domain": [1.5, 321.5], "nice": false, "zero": false}},
        "y": {"field": "p", "type": "quantitative", "scale": {"domain": [1.36542, 1.42605], "nice": false, "zero": false}},
        "text": {"field": "t"}
      }
    },
    {
      "data": {"values": [{"i": 72.8, "p": 1.4226}]},
      "mark": {"type": "point", "filled": true, "size": 150, "color": "#ff0000", "opacity": 1},
      "encoding": {
        "x": {"field": "i", "type": "quantitative", "scale": {"domain": [1.5, 321.5], "nice": false, "zero": false}},
        "y": {"field": "p", "type": "quantitative", "scale": {"domain": [1.36542, 1.42605], "nice": false, "zero": false}}
      }
    },
    {
      "data": {"name": "scale_labels"},
      "mark": {"type": "text", "fontSize": 6, "font": "Liberation Sans", "color": "#333333", "align": "left", "baseline": "middle"},
      "encoding": {
        "x": {"field": "i", "type": "quantitative", "scale": {"domain": [1.5, 321.5], "nice": false, "zero": false}},
        "y": {"field": "p", "type": "quantitative", "scale": {"domain": [1.36542, 1.42605], "nice": false, "zero": false}},
        "text": {"field": "p", "type": "quantitative", "format": ".4f"}
      }
    },
    {
      "data": {"name": "tags"},
      "mark": {"type": "rect"},
      "encoding": {
        "x": {"field": "i", "type": "quantitative", "scale": {"domain": [1.5, 321.5], "nice": false, "zero": false}},
        "x2": {"field": "i2"},
        "y": {"field": "p", "type": "quantitative", "scale": {"domain": [1.36542, 1.42605], "nice": false, "zero": false}},
        "y2": {"field": "p2"},
        "color": {"field": "col", "type": "nominal", "scale": null}
      }
    },
    {
      "data": {"name": "tags"},
      "mark": {"type": "text", "fontSize": 6, "font": "Liberation Sans", "color": "#ffffff", "align": "left", "baseline": "middle", "dx": 2},
      "encoding": {
        "x": {"field": "i", "type": "quantitative", "scale": {"domain": [1.5, 321.5], "nice": false, "zero": false}},
        "y": {"field": "v", "type": "quantitative", "scale": {"domain": [1.36542, 1.42605], "nice": false, "zero": false}},
        "text": {"field": "t"}
      }
    }
  ]
}
